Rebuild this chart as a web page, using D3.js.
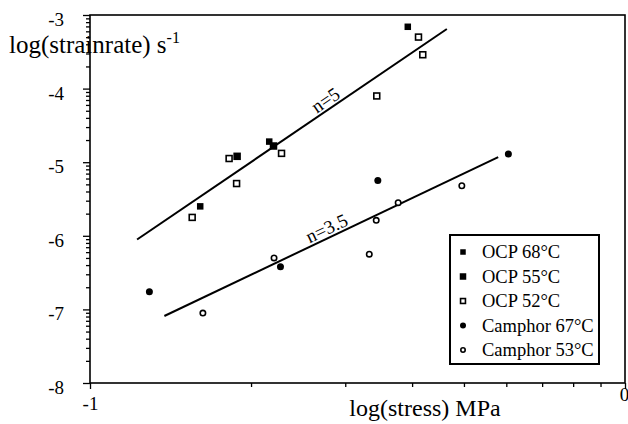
<!DOCTYPE html>
<html>
<head>
<meta charset="utf-8">
<script src="https://cdn.jsdelivr.net/npm/d3@7"></script>
<style>
  body { margin: 0; background: #fff; }
  svg { display: block; }
  svg text { font-family: "Liberation Serif", "Times New Roman", "DejaVu Serif", serif; }
</style>
</head>
<body>
<svg id="chart" width="628" height="424"></svg>
<script>
// log(stress) MPa, log(strainrate) s-1
const ocp68 = [[-0.406, -3.16], [-0.665, -4.72], [-0.794, -5.60]];
const ocp55 = [[-0.725, -4.92], [-0.657, -4.78]];
const ocp52 = [[-0.809, -5.75], [-0.740, -4.95], [-0.726, -5.29], [-0.642, -4.88],
               [-0.464, -4.10], [-0.386, -3.30], [-0.378, -3.54]];
const camphor67 = [[-0.889, -6.76], [-0.644, -6.42], [-0.462, -5.25], [-0.218, -4.89]];
const camphor53 = [[-0.789, -7.05], [-0.656, -6.30], [-0.478, -6.25], [-0.465, -5.79],
                   [-0.424, -5.55], [-0.305, -5.32]];

// fitted power-law lines
const fitN5 = [[-0.912, -6.05], [-0.333, -3.19]];
const fitN35 = [[-0.861, -7.09], [-0.237, -4.93]];

const xTickLabels = [-1, 0];
const yTickLabels = [-8, -7, -6, -5, -4, -3];
const legendLabels = ["OCP 68°C", "OCP 55°C", "OCP 52°C", "Camphor 67°C", "Camphor 53°C"];

const FONT = "Liberation Serif, Times New Roman, DejaVu Serif, serif";
const svg = d3.select("#chart").attr("font-family", FONT);
const W = 628, H = 424;
const m = { left: 90, right: 625, top: 15, bottom: 383 };

const x = d3.scaleLinear().domain([-1, 0]).range([m.left, m.right]);
const y = d3.scaleLinear().domain([-8, -3]).range([m.bottom, m.top]);

// minor ticks sit at log positions inside each decade
const xMinor = d3.range(2, 10).map(k => Math.log10(k / 10));
const yMinor = [];
for (let d = -8; d < -3; d++) {
  for (let k = 2; k <= 9; k++) yMinor.push(d + Math.log10(k));
}

svg.append("rect").attr("width", W).attr("height", H).attr("fill", "#fff");

// frame
svg.append("rect")
  .attr("x", m.left).attr("y", m.top)
  .attr("width", m.right - m.left).attr("height", m.bottom - m.top)
  .attr("fill", "none").attr("stroke", "#000").attr("stroke-width", 1.6);

const fmt = d => String(d);

// y axis
const gy = svg.append("g").attr("transform", `translate(${m.left},0)`);
gy.call(d3.axisLeft(y).tickValues(yMinor).tickSize(4).tickFormat(""));
gy.select(".domain").remove();
const gyMaj = svg.append("g").attr("transform", `translate(${m.left},0)`);
gyMaj.call(d3.axisLeft(y).tickValues(yTickLabels).tickSize(7).tickPadding(19).tickFormat(fmt));
gyMaj.select(".domain").remove();
gyMaj.attr("font-family", FONT).attr("font-size", 19);
gyMaj.selectAll("text").attr("fill", "#000").attr("dy", "0.55em");

// x axis
const gx = svg.append("g").attr("transform", `translate(0,${m.bottom})`);
gx.call(d3.axisBottom(x).tickValues(xMinor).tickSize(4).tickFormat(""));
gx.select(".domain").remove();
const gxMaj = svg.append("g").attr("transform", `translate(0,${m.bottom})`);
gxMaj.call(d3.axisBottom(x).tickValues(xTickLabels).tickSize(6).tickPadding(8).tickFormat(fmt));
gxMaj.select(".domain").remove();
gxMaj.attr("font-family", FONT).attr("font-size", 19);
gxMaj.selectAll("text").attr("fill", "#000");
gxMaj.selectAll(".tick").filter(d => d === 0).select("text").attr("dy", "0.2em").attr("dx", -1);
svg.selectAll("g.tick line").attr("stroke", "#000").attr("stroke-width", 1.3);

// axis titles
const yTitle = svg.append("text").attr("x", 9).attr("y", 53)
  .attr("font-size", 25).attr("fill", "#000");
yTitle.append("tspan").text("log(strainrate) s");
yTitle.append("tspan").attr("dy", -10).attr("font-size", 16).text("-1");

svg.append("text").attr("x", 425).attr("y", 416).attr("text-anchor", "middle")
  .attr("font-size", 24).attr("fill", "#000").text("log(stress) MPa");

// fit lines
const line = d3.line().x(d => x(d[0])).y(d => y(d[1]));
[fitN5, fitN35].forEach(f => {
  svg.append("path").datum(f).attr("d", line)
    .attr("fill", "none").attr("stroke", "#000").attr("stroke-width", 2);
});

function fitLabel(f, xv, txt, off) {
  const t = (xv - f[0][0]) / (f[1][0] - f[0][0]);
  const yv = f[0][1] + t * (f[1][1] - f[0][1]);
  const ang = Math.atan2(y(f[1][1]) - y(f[0][1]), x(f[1][0]) - x(f[0][0])) * 180 / Math.PI;
  svg.append("text")
    .attr("transform", `translate(${x(xv)},${y(yv)}) rotate(${ang}) translate(0,${-off})`)
    .attr("text-anchor", "middle").attr("font-size", 19).attr("fill", "#000").text(txt);
}
fitLabel(fitN5, -0.55, "n=5", 3);
fitLabel(fitN35, -0.55, "n=3.5", 3);

// markers
const marks = {
  sqFill: (g, s) => g.append("rect").attr("x", -s / 2).attr("y", -s / 2).attr("width", s).attr("height", s).attr("fill", "#000"),
  sqOpen: (g, s) => g.append("rect").attr("x", -s / 2 + 0.8).attr("y", -s / 2 + 0.8).attr("width", s - 1.6).attr("height", s - 1.6)
    .attr("fill", "#fff").attr("stroke", "#000").attr("stroke-width", 1.6),
  ciFill: (g, s) => g.append("circle").attr("r", s / 2).attr("fill", "#000"),
  ciOpen: (g, s) => g.append("circle").attr("r", s / 2 - 0.8).attr("fill", "#fff").attr("stroke", "#000").attr("stroke-width", 1.6)
};
const series = [
  { data: ocp68, mark: "sqFill", size: 6.5 },
  { data: ocp55, mark: "sqFill", size: 7.5 },
  { data: ocp52, mark: "sqOpen", size: 7.5 },
  { data: camphor67, mark: "ciFill", size: 7 },
  { data: camphor53, mark: "ciOpen", size: 7 }
];
series.forEach(s => {
  s.data.forEach(d => {
    const g = svg.append("g").attr("transform", `translate(${x(d[0])},${y(d[1])})`);
    marks[s.mark](g, s.size);
  });
});

// legend
const lg = svg.append("g").attr("transform", "translate(450,235)");
lg.append("rect").attr("width", 149).attr("height", 129)
  .attr("fill", "#fff").attr("stroke", "#000").attr("stroke-width", 2);
legendLabels.forEach((lab, i) => {
  const cy = 17 + i * 24.5;
  const g = lg.append("g").attr("transform", `translate(13,${cy})`);
  marks[series[i].mark](g, series[i].size - 1);
  lg.append("text").attr("x", 32).attr("y", cy).attr("dy", "0.35em")
    .attr("font-size", 18.5).attr("fill", "#000").text(lab);
});
</script>
</body>
</html>
